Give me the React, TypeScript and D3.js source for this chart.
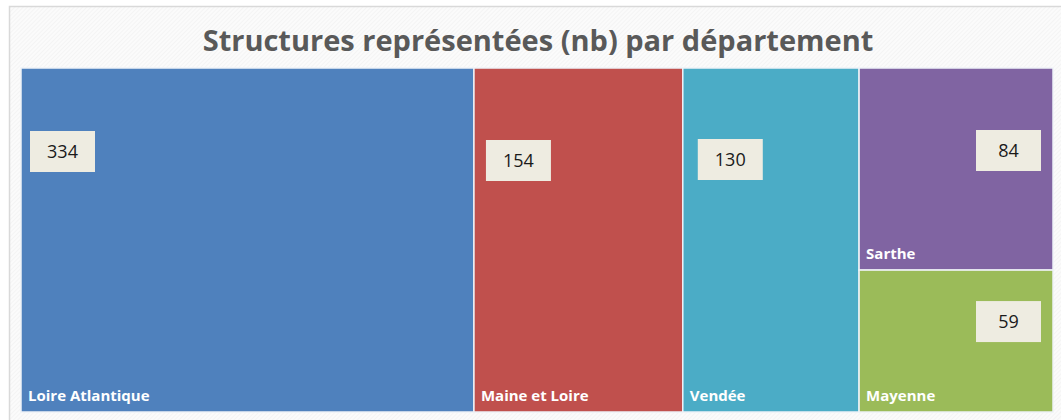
import React, { useRef, useEffect } from "react";
import * as d3 from "d3";

// data
const departements = ["Loire Atlantique", "Maine et Loire", "Vendée", "Sarthe", "Mayenne"];
const structures = [334, 154, 130, 84, 59];
const couleurs = ["#4F81BD", "#C0504D", "#4BACC6", "#8064A2", "#9BBB59"];
const titre = "Structures représentées (nb) par département";

// where Excel dropped each value label inside its tile (dx from left or right edge, dy from top)
const labelPos = [
  { side: "left", dx: 9, dy: 63 },
  { side: "left", dx: 12, dy: 72 },
  { side: "left", dx: 15, dy: 71 },
  { side: "right", dx: 12, dy: 62 },
  { side: "right", dx: 12, dy: 31 },
];

const W = 1061;
const H = 420;

function Treemap() {
  const svgRef = useRef(null);

  useEffect(() => {
    const svg = d3.select(svgRef.current);
    svg.selectAll("*").remove();

    const plot = { x0: 21, y0: 68, x1: 1053, y1: 412 };

    // hatched chart background
    const defs = svg.append("defs");
    const pat = defs.append("pattern")
      .attr("id", "hatch")
      .attr("width", 3)
      .attr("height", 3)
      .attr("patternUnits", "userSpaceOnUse")
      .attr("patternTransform", "rotate(45)");
    pat.append("rect").attr("width", 3).attr("height", 3).attr("fill", "#fbfbfb");
    pat.append("line")
      .attr("x1", 0).attr("y1", 0).attr("x2", 0).attr("y2", 3)
      .attr("stroke", "#eeeeee").attr("stroke-width", 1);

    svg.append("rect")
      .attr("x", 0).attr("y", 0).attr("width", W).attr("height", H)
      .attr("fill", "#ffffff");

    svg.append("rect")
      .attr("x", 9.5).attr("y", 6.5)
      .attr("width", W).attr("height", H)
      .attr("fill", "url(#hatch)")
      .attr("stroke", "#d9d9d9")
      .attr("stroke-width", 1.5);

    svg.append("text")
      .attr("x", 538)
      .attr("y", 51)
      .attr("text-anchor", "middle")
      .style("font-family", "Open Sans")
      .style("font-weight", "bold")
      .style("font-size", "29px")
      .style("fill", "#595959")
      .text(titre);

    const rootData = {
      name: "root",
      children: departements.map((d, i) => ({ name: d, value: structures[i], i })),
    };

    const root = d3.hierarchy(rootData)
      .sum((d) => d.value || 0);

    d3.treemap()
      .tile(d3.treemapSquarify.ratio(1))
      .size([plot.x1 - plot.x0, plot.y1 - plot.y0])(root);

    const g = svg.append("g").attr("transform", `translate(${plot.x0},${plot.y0})`);

    const cell = g.selectAll(".cell")
      .data(root.leaves())
      .enter()
      .append("g")
      .attr("class", "cell");

    cell.append("rect")
      .attr("x", (d) => d.x0)
      .attr("y", (d) => d.y0)
      .attr("width", (d) => d.x1 - d.x0)
      .attr("height", (d) => d.y1 - d.y0)
      .style("fill", (d) => couleurs[d.data.i])
      .style("stroke", "#eef2f7")
      .style("stroke-width", 1.5);

    cell.append("text")
      .attr("x", (d) => d.x0 + 7)
      .attr("y", (d) => d.y1 - 11)
      .style("font-family", "Open Sans")
      .style("font-weight", "bold")
      .style("font-size", "15px")
      .style("fill", "#ffffff")
      .text((d) => d.data.name);

    const bw = 65;
    const bh = 41;
    const bx = (d) => {
      const p = labelPos[d.data.i];
      return p.side === "left" ? d.x0 + p.dx : d.x1 - p.dx - bw;
    };
    const by = (d) => d.y0 + labelPos[d.data.i].dy;

    cell.append("rect")
      .attr("x", bx)
      .attr("y", by)
      .attr("width", bw)
      .attr("height", bh)
      .style("fill", "#EEECE1");

    cell.append("text")
      .attr("x", (d) => bx(d) + bw / 2)
      .attr("y", (d) => by(d) + bh / 2 + 6.5)
      .attr("text-anchor", "middle")
      .style("font-family", "Open Sans")
      .style("font-size", "18px")
      .style("fill", "#1a1a1a")
      .text((d) => d.data.value);
  }, []);

  return (
    <svg
      ref={svgRef}
      width={W}
      height={H}
      style={{ position: "absolute", left: 0, top: 0, display: "block" }}
    ></svg>
  );
}

export default function App() {
  return <Treemap />;
}
